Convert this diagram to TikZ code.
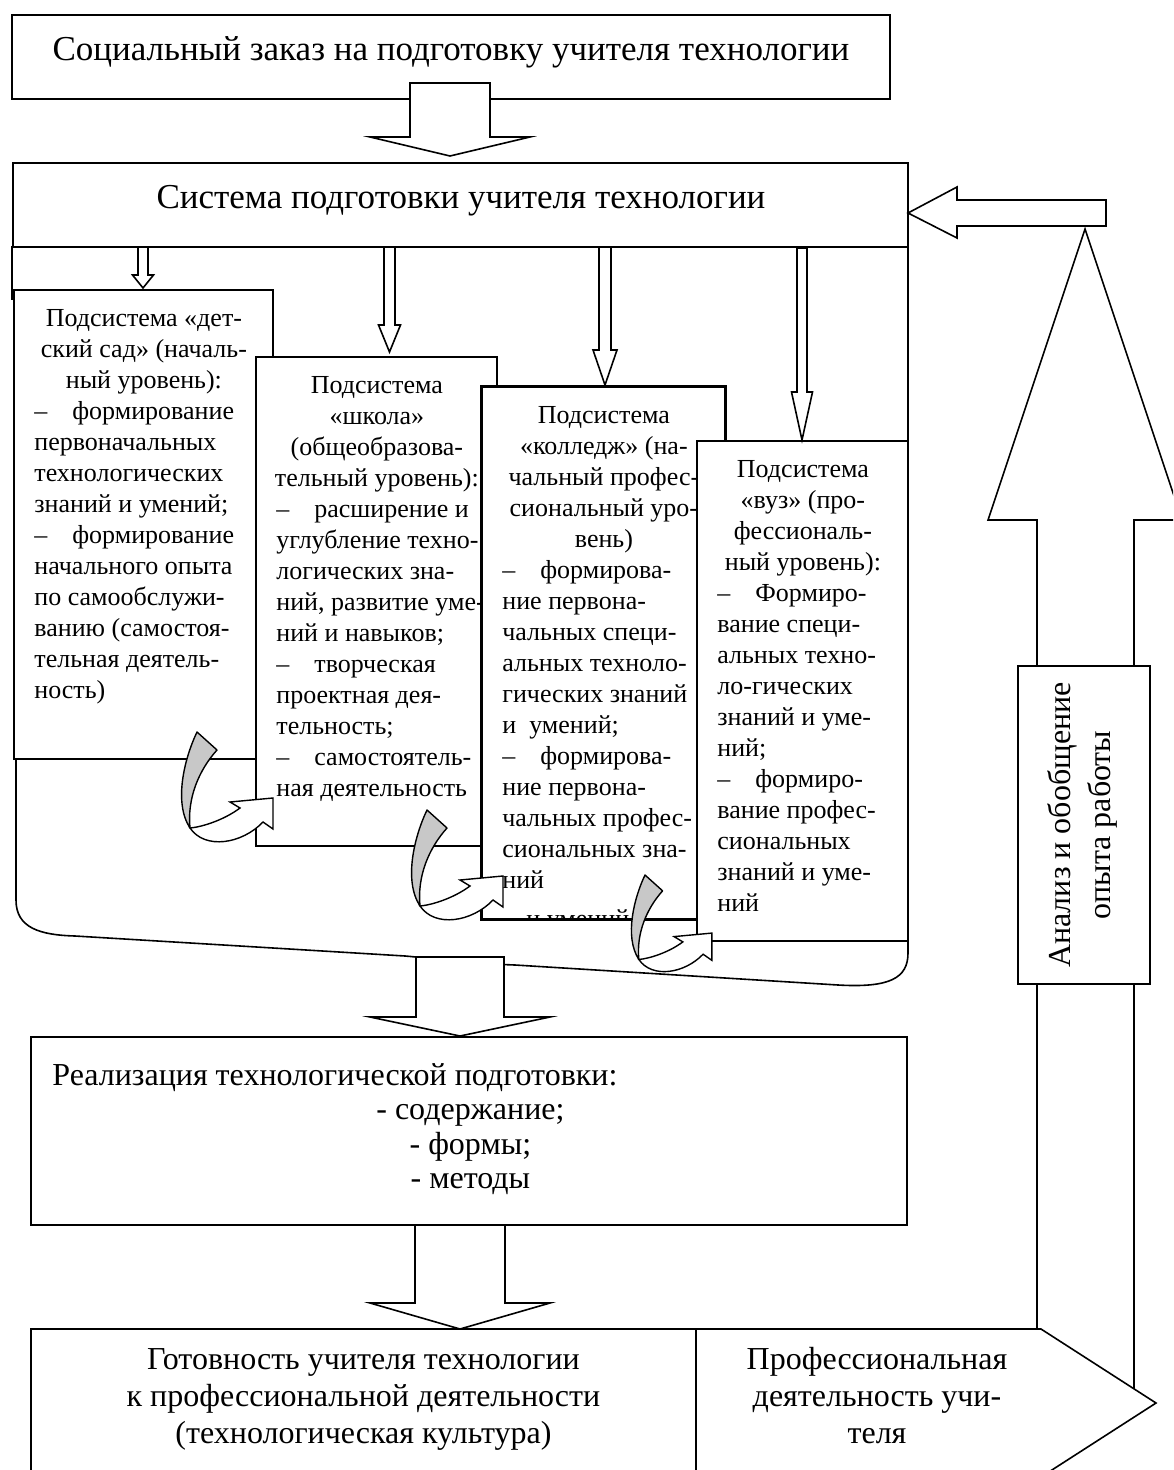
\documentclass[tikz,border=0pt]{standalone}
\usepackage{fontspec}
\setmainfont{Liberation Serif}
\usetikzlibrary{calc}

\definecolor{ribbon}{RGB}{200,200,200}
\newlength\colw
% column width for centred lines, kept across the lines of a node
\newcommand\setcol[1]{\global\colw=#1\relax}
% centred line inside a column of width \colw
\newcommand\cl[1]{\makebox[\colw][c]{#1}}
% list item: dash, wide gap, then the words
\newcommand\dl[1]{\makebox[19pt][l]{–}#1}
\newcommand\firststrut{\rule{0pt}{12pt}}
\newcommand\bigstrut{\rule{0pt}{14pt}}

\tikzset{
  line/.style={line width=0.8pt},
  box/.style={draw, line width=0.8pt, fill=white, rectangle, inner sep=0pt},
  blk/.style={draw, line width=0.8pt, fill=white, line join=miter},
  sub/.style={anchor=north west, inner sep=0pt, align=left,
              font=\fontsize{13}{15.5}\selectfont},
  head/.style={inner sep=0pt, font=\fontsize{17.5}{21}\selectfont},
  mid/.style={inner sep=0pt, font=\fontsize{16}{18.5}\selectfont},
  twist arrow/.pic={
    \filldraw[fill=ribbon, line width=0.7pt, line join=round]
      (0,0) .. controls (-12,25) and (-24,70) .. (-7,96)
            .. controls (-10,66) and (2,38) .. (20,18) -- cycle;
    \filldraw[fill=white, line width=0.7pt, line join=miter]
      (-7,96) .. controls (5,95) and (27,88) .. (43,76)
      -- (33,70) -- (76,66) -- (76,97) -- (66,90)
      .. controls (45,112) and (8,118) .. (-7,96) -- cycle;
  }
}

% down block arrow: centre x, shaft top, head base, tip, half shaft, half head
\newcommand\blkdown[6]{%
  \filldraw[blk] ({#1-#5},#2) -- ({#1-#5},#3) -- ({#1-#6},#3) -- (#1,#4)
    -- ({#1+#6},#3) -- ({#1+#5},#3) -- ({#1+#5},#2) -- cycle;}

\begin{document}
\begin{tikzpicture}[x=0.5pt,y=-0.5pt]
\useasboundingbox (0,0) rectangle (1173,1470);
\fill[white] (0,0) rectangle (1173,1470);
\clip (0,0) rectangle (1173,1470);

% social order
\node[box, minimum width=439pt, minimum height=42pt] (soc) at (451,57) {};
\node[head, anchor=base] (soc-text) at (451,61)
  {Социальный заказ на подготовку учителя технологии};
\blkdown{450}{83}{137}{156}{40}{80}

% training system
\node[box, minimum width=447.5pt, minimum height=42pt] (sys) at (460.5,205) {};
\node[head, anchor=base] (sys-text) at (461,209)
  {Система подготовки учителя технологии};

% feedback arrows on the right
\filldraw[blk] (1106,200) -- (957,200) -- (957,187) -- (908,213)
  -- (957,238) -- (957,226) -- (1106,226) -- cycle;
\filldraw[blk] (1037,1395) -- (1037,520) -- (988,520) -- (1085,229)
  -- (1182,520) -- (1134,520) -- (1134,1395) -- cycle;

% frame round the subsystems
\draw[line] (908,441) -- (908,247) -- (12,247) -- (12,300);
\draw[line] (16,740) -- (16,900) .. controls (16,928) and (40,935) .. (75,936)
  -- (405,956) .. controls (430,958) and (450,962) .. (459,972)
  .. controls (468,963) and (490,964) .. (515,965)
  -- (838,985) .. controls (890,988) and (908,978) .. (908,953) -- (908,930);

% subsystem: kindergarten
\node[box, minimum width=129.5pt, minimum height=234.5pt] (kg) at (143.5,524.5) {};
\node[sub] (kg-text) at (34,302) {\setcol{109.5pt}\firststrut
  \cl{Подсистема «дет-}\\
  \cl{ский сад» (началь-}\\
  \cl{ный уровень):}\\
  \dl{формирование}\\
  первоначальных\\
  технологических\\
  знаний и умений;\\
  \dl{формирование}\\
  начального опыта\\
  по самообслужи-\\
  ванию (самостоя-\\
  тельная деятель-\\
  ность)};

% subsystem: school
\node[box, minimum width=120.5pt, minimum height=244.5pt] (sch) at (376.5,601.5) {};
\node[sub] (sch-text) at (276,369) {\setcol{100.5pt}\firststrut
  \cl{Подсистема}\\
  \cl{«школа»}\\
  \cl{(общеобразова-}\\
  \cl{тельный уровень):}\\
  \dl{расширение и}\\
  углубление техно-\\
  логических зна-\\
  ний, развитие уме-\\
  ний и навыков;\\
  \dl{творческая}\\
  проектная дея-\\
  тельность;\\
  \dl{самостоятель-}\\
  ная деятельность};

% subsystem: college
\node[box, minimum width=121.5pt, minimum height=266pt] (col) at (603.5,653) {};
\begin{scope}
  \clip (482,387) rectangle (725,919);
  \node[sub] (col-text) at (502,399) {\setcol{101.5pt}\firststrut
    \cl{Подсистема}\\
    \cl{«колледж» (на-}\\
    \cl{чальный профес-}\\
    \cl{сиональный уро-}\\
    \cl{вень)}\\
    \dl{формирова-}\\
    ние первона-\\
    чальных специ-\\
    альных техноло-\\
    гических знаний\\
    и\ \ умений;\\
    \dl{формирова-}\\
    ние первона-\\
    чальных профес-\\
    сиональных зна-\\
    ний\\[4pt]
    \hspace*{12pt}и умений};
\end{scope}
\draw[line] (col.north west) rectangle (col.south east);

% subsystem: university
\node[box, minimum width=105.5pt, minimum height=250pt] (uni) at (802.5,691) {};
\node[sub] (uni-text) at (717,453) {\setcol{85.5pt}\firststrut
  \cl{Подсистема}\\
  \cl{«вуз» (про-}\\
  \cl{фессиональ-}\\
  \cl{ный уровень):}\\
  \dl{Формиро-}\\
  вание специ-\\
  альных техно-\\
  ло-гических\\
  знаний и уме-\\
  ний;\\
  \dl{формиро-}\\
  вание профес-\\
  сиональных\\
  знаний и уме-\\
  ний};

% arrows from the system to each subsystem
\blkdown{143}{247}{275}{288}{5}{10.5}
\blkdown{389.5}{247}{325}{352}{5.5}{11}
\blkdown{605}{247}{350}{385}{6}{12}
\blkdown{802}{248}{392}{440}{5}{10.5}

% transitions between the levels
\pic at (197,732) {twist arrow};
\pic at (427,810) {twist arrow};
\pic[scale=0.88] at (645,875) {twist arrow};

% realisation
\blkdown{460}{957}{1017}{1036}{44}{90}
\node[box, minimum width=438pt, minimum height=94pt] (real) at (469,1131) {};
\node[mid, anchor=north west, align=left, font=\fontsize{16}{17.25}\selectfont]
  (real-text) at (52,1057) {\setcol{418pt}\bigstrut
  Реализация технологической подготовки:\\
  \cl{- содержание;}\\
  \cl{- формы;}\\
  \cl{- методы}};
\blkdown{460}{1225}{1303}{1329}{45}{90}

% readiness and professional activity
\node[box, minimum width=332.5pt, minimum height=95.5pt] (ready) at (363.5,1424.5) {};
\node[mid, anchor=north, align=center] (ready-text) at (363.5,1341) {\bigstrut
  Готовность учителя технологии\\
  к профессиональной деятельности\\
  (технологическая культура)};
\filldraw[blk] (696,1329) -- (1041,1329) -- (1156,1403) -- (1041,1477)
  -- (696,1477) -- cycle;
\node[mid, anchor=north, align=center] (prof-text) at (877,1341) {\bigstrut
  Профессиональная\\
  деятельность учи-\\
  теля};

% analysis box on the feedback arrow
\node[box, minimum width=66pt, minimum height=159pt] (anal) at (1084,825) {};
\node[mid, rotate=90, align=center, font=\fontsize{16}{20}\selectfont]
  (anal-text) at (1082,825) {Анализ и обобщение\\опыта работы};
\end{tikzpicture}
\end{document}
